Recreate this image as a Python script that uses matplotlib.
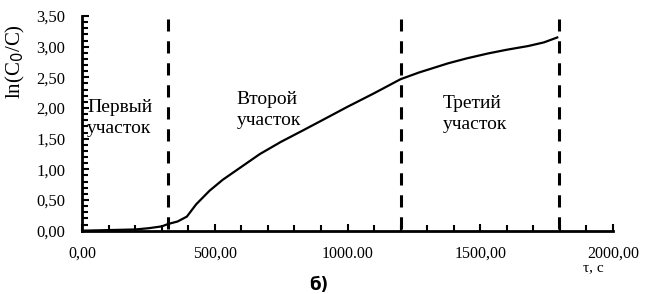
import matplotlib
matplotlib.use("Agg")
import matplotlib.pyplot as plt
from matplotlib.ticker import MultipleLocator, FixedLocator

t = [0, 100, 200, 250, 300, 325, 360, 395, 430, 480, 530, 600, 670, 750, 830,
     900, 1000, 1050, 1100, 1200, 1270, 1380, 1450, 1530, 1600, 1680, 1740, 1790]
y = [0, 0.01, 0.02, 0.04, 0.07, 0.11, 0.15, 0.23, 0.43, 0.65, 0.83, 1.04, 1.25,
     1.45, 1.63, 1.79, 2.02, 2.13, 2.24, 2.47, 2.58, 2.73, 2.81, 2.89, 2.95,
     3.01, 3.07, 3.15]
boundaries = [325, 1200, 1795]
x_ticks = [0, 500, 1000, 1500, 2000]
x_ticklabels = ["0,00", "500,00", "1000.00", "1500,00", "2000,00"]
y_ticks = [0, 0.5, 1.0, 1.5, 2.0, 2.5, 3.0, 3.5]
y_ticklabels = ["0,00", "0,50", "1,00", "1,50", "2,00", "2,50", "3,00", "3,50"]
region_labels = ["Первый\nучасток", "Второй\nучасток", "Третий\nучасток"]

serif = "Liberation Serif"
fig = plt.figure(figsize=(6.5, 2.94), dpi=100)
ax = fig.add_axes([82/650, 1-230.7/294, (613-82)/650, (230.7-16)/294])

ax.plot(t, y, color="black", lw=1.6, solid_joinstyle="round")
for b in boundaries:
    ax.axvline(b, ymin=0.01, ymax=0.985, color="black", lw=2.2, dashes=(4.0, 3.2))

ax.set_xlim(0, 2000)
ax.set_ylim(0, 3.5)
for s in ["top", "right"]:
    ax.spines[s].set_visible(False)
for s in ["left", "bottom"]:
    ax.spines[s].set_linewidth(2)

ax.xaxis.set_major_locator(FixedLocator(x_ticks))
ax.set_xticklabels(x_ticklabels, fontfamily=serif, fontsize=11.5)
ax.xaxis.set_minor_locator(MultipleLocator(100))
ax.yaxis.set_major_locator(FixedLocator(y_ticks))
ax.set_yticklabels(y_ticklabels, fontfamily=serif, fontsize=12)
ax.yaxis.set_minor_locator(MultipleLocator(0.1))
ax.tick_params(axis="both", which="both", direction="in", width=1.5, color="black")
ax.tick_params(axis="both", which="major", length=5)
ax.tick_params(axis="both", which="minor", length=4)
ax.tick_params(axis="x", pad=11)
ax.tick_params(axis="y", pad=12)

ax.set_ylabel(r"ln(C$_0$/C)", fontfamily=serif, fontsize=15)
ax.yaxis.set_label_coords(-0.104, 0.79)

ax.text(20, 1.84, region_labels[0], fontfamily=serif, fontsize=14, va="center", ha="left", linespacing=1.35)
ax.text(582, 1.97, region_labels[1], fontfamily=serif, fontsize=14, va="center", ha="left", linespacing=1.35)
ax.text(1360, 1.90, region_labels[2], fontfamily=serif, fontsize=14, va="center", ha="left", linespacing=1.35)

fig.text(593/650, 1-268/294, "τ, с", fontfamily=serif, fontsize=11, ha="center", va="center")
fig.text(319/650, 1-285/294, "б)", fontfamily="DejaVu Sans", fontsize=12, fontweight="bold", ha="center", va="center")

fig.savefig("out.png", dpi=100)
